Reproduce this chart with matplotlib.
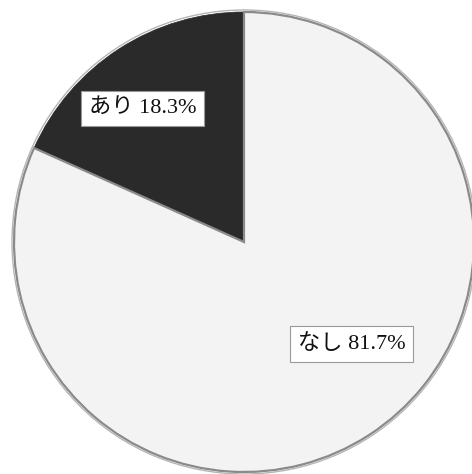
import matplotlib.pyplot as plt
import numpy as np

# データ
labels = ['あり', 'なし']
values = [18.3, 81.7]
colors = ['#2a2a2a', '#f3f3f3']

plt.rcParams['font.family'] = ['Liberation Serif', 'Noto Sans CJK JP']

fig = plt.figure(figsize=(4.72, 4.74), dpi=100)
ax = fig.add_axes([0, 0, 1, 1])

cx, cy, r = 244, 232, 230  # 中心と半径（ピクセル）
wedges, _ = ax.pie(values, colors=colors, startangle=90, counterclock=True,
                   center=(cx, cy), radius=r,
                   wedgeprops=dict(edgecolor='#8a8a8a', linewidth=1.6))
wedges[0].set_edgecolor('#2a2a2a')
wedges[0].set_linewidth(0.5)

# 外周の影
circ = plt.Circle((cx, cy), r + 2, fill=False, ec='#b5b5b5', lw=1.0)
ax.add_patch(circ)

ax.set_xlim(0, 472)
ax.set_ylim(0, 474)
ax.set_aspect('equal')
ax.axis('off')

# ラベル位置（半径比, 角度）
label_pos = [(0.73, 127.3), (0.645, -43.5)]
for lab, v, (d, ang) in zip(labels, values, label_pos):
    a = np.deg2rad(ang)
    ax.text(cx + d * r * np.cos(a), cy + d * r * np.sin(a), f'{lab} {v}%',
            ha='center', va='center', fontsize=16, color='#111111',
            bbox=dict(boxstyle='square,pad=0.35', fc='white', ec='#999999', lw=0.8))

plt.savefig('out.png', dpi=100)
